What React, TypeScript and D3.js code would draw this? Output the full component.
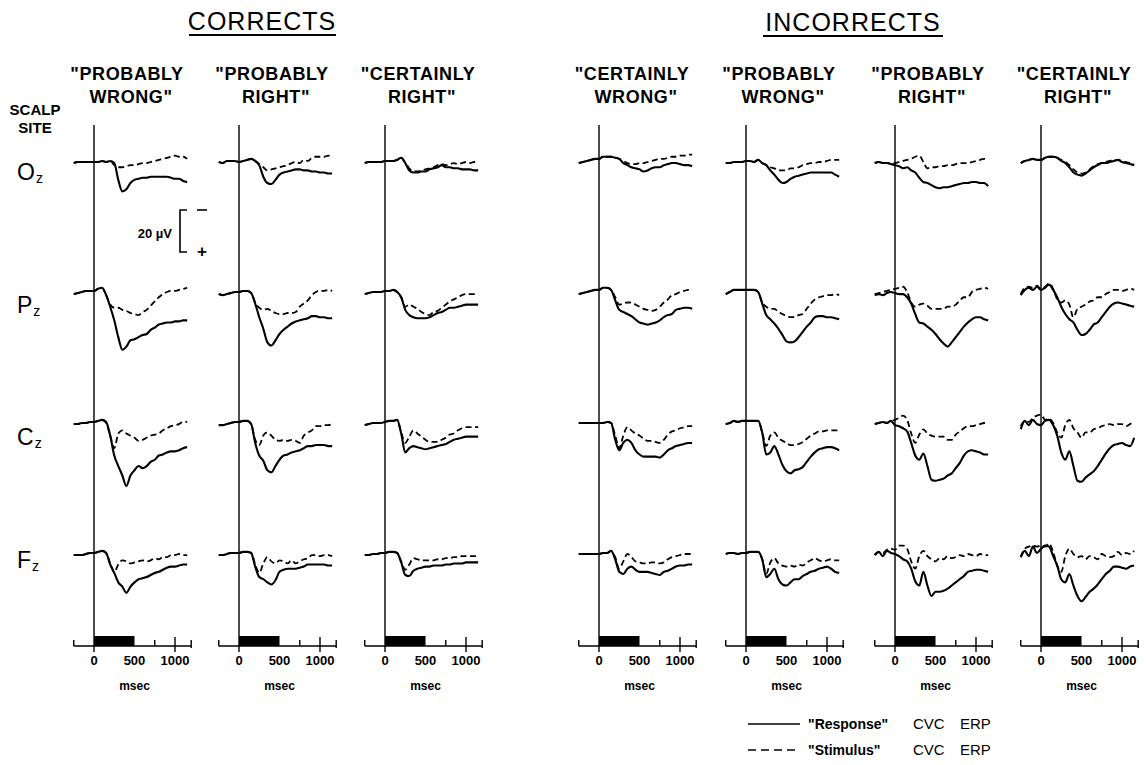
import React from "react";
import * as d3 from "d3";

// time grid (ms)
const TIMES = [-250,-200,-150,-100,-50,0,50,100,150,200,250,300,350,400,450,500,550,600,650,700,750,800,850,900,950,1000,1050,1100,1150];
const SITES = ["O", "P", "C", "F"];
const X_TICK_LABELS = [0, 500, 1000];
const MINOR_TICKS = [750];
const CAL_UV = 20;

// ---- CORRECTS "PROBABLY WRONG" (values µV, positive plotted downward)
const cPW_Oz_R = [0.5,0,0,0,0,0,0,-0.5,0,-0.5,0.5,8.5,14,13,10,8.5,8,7.5,7.5,7,7,7,7,7,7.5,8,8,9,9.5];
const cPW_Oz_S = [0.5,0,0,0,0,0,0,-0.5,0,-0.5,1.5,2.5,2.5,2,1.5,1.5,1,0.5,0.5,0,-0.5,-1,-1.5,-2,-2.5,-3,-2.5,-2.5,-1.5];
const cPW_Pz_R = [1,0.5,0,-0.5,-0.5,-0.5,-1.5,-2,1.5,7,13.5,21.5,27.5,26,23,22.5,21.5,20.5,20,18,17,15.5,15,14.5,14.5,14,14,13.5,13.5];
const cPW_Pz_S = [1,0.5,0,-0.5,-0.5,-0.5,-1.5,-2,1.5,6,7.5,7.5,8.5,9,10,10.5,11,9.5,8.5,6.5,4.5,2.5,1,0,-0.5,-0.5,-1,-1.5,-2];
const cPW_Cz_R = [0.5,0.5,0,0,-0.5,-0.5,-1,-1.5,-0.5,6,15.5,20.5,25,30,25,22.5,20.5,21.5,20.5,18.5,17.5,15.5,15,14,13.5,13.5,13,12,11.5];
const cPW_Cz_S = [0.5,0.5,0,0,-0.5,-0.5,-1,-1.5,0,6,12,5,3.5,5,6,7,8.5,8,7,6,5.5,5,3.5,2.5,1.5,1,0.5,-0.5,-0.5];
const cPW_Fz_R = [0.5,0.5,0.5,0,-0.5,-0.5,-1,-1.5,-0.5,5,9,13.5,15.5,18.5,15.5,13.5,12,11.5,11,10,9,8.5,7.5,6.5,6,6,5.5,5,5];
const cPW_Fz_S = [0.5,0.5,0.5,0,-0.5,-0.5,-1,-1.5,-0.5,4.5,8.5,5,3,3.5,4.5,4,3.5,3,3.5,3,2,2.5,1.5,1.5,0.5,0.5,0,0.5,0.5];

// ---- CORRECTS "PROBABLY RIGHT"
const cPR_Oz_R = [0,0.5,-0.5,-0.5,-0.5,0,-0.5,-1,-1.5,-0.5,1.5,7,10,10.5,8.5,6,5,4.5,4,3.5,3.5,4,4,4.5,4.5,5,5,5.5,5.5];
const cPR_Oz_S = [0,0.5,-0.5,-0.5,-0.5,0,-0.5,-1,-1.5,-0.5,1,2.5,4,3.5,3,2.5,2,1.5,0.5,0,0.5,-1,-0.5,-2,-2.5,-2.5,-2.5,-3,-2.5];
const cPR_Pz_R = [1,1.5,1,0.5,0,0,-0.5,-0.5,0.5,5.5,12,17.5,24,25.5,23,20,18,16.5,15,14,13.5,13,12.5,11.5,11.5,12,12,12.5,12.5];
const cPR_Pz_S = [1,1.5,1,0.5,0,0,-0.5,-0.5,0.5,5,7.5,8.5,8,9,10,10.5,10.5,10,10,9.5,7,5.5,4,1.5,0,-0.5,-0.5,-1,-0.5];
const cPR_Cz_R = [1,1,0.5,0,-0.5,-0.5,-1,-1,0.5,9.5,15.5,18,22.5,23.5,20.5,17.5,15.5,15,14,13.5,13,12,11,11,10.5,10.5,10.5,11,11];
const cPR_Cz_S = [1,1,0.5,0,-0.5,-0.5,-1,-1,0.5,8,10.5,6,4.5,6,8,8.5,8,8.5,8,8.5,9.5,6,4.5,3.5,1.5,1.5,1,1,0.5];
const cPR_Fz_R = [0.5,0.5,0,-0.5,-0.5,-0.5,-1,-1,-0.5,6,11,12,13.5,14.5,12.5,8.5,7.5,7,7,7,6.5,6,5,5,5,5,5,5.5,5.5];
const cPR_Fz_S = [0.5,0.5,0,-0.5,-0.5,-0.5,-1,-1,-0.5,5,9,4.5,1.5,3.5,4.5,3,3.5,4.5,3,4.5,3.5,2.5,2,0.5,0.5,1,0.5,0.5,1];

// ---- CORRECTS "CERTAINLY RIGHT"
const cCR_Oz_R = [0.5,0,0,0,0,-0.5,-0.5,-0.5,-1,-2,0.5,4,5,5,4.5,4.5,3.5,3,2.5,1.5,2.5,2.5,3,3,3.5,3.5,3.5,4,4];
const cCR_Oz_S = [0.5,0,0,0,0,-0.5,-0.5,-0.5,-1,-2,0.5,3,4.5,4.5,4,3.5,3,2.5,1.5,1,1.5,1,0.5,1,0.5,0,0.5,0,0];
const cCR_Pz_R = [1,0.5,0,0,0,-0.5,-0.5,-1,0,2.5,8.5,11,12,12.5,12.5,12.5,12,11,10,9.5,8.5,7.5,7.5,7,6.5,6,6,6,6];
const cCR_Pz_S = [1,0.5,0,0,0,-0.5,-0.5,-1,0,2.5,7,6,7,8,9.5,10.5,11,9.5,9,7.5,6,4.5,3.5,2.5,1.5,1,1,1,1];
const cCR_Cz_R = [1,0.5,0,0,0,-0.5,-1,-1,-1.5,5,14,12,11,11.5,12,12.5,12,11.5,11,10.5,10,9,8,7.5,7,6.5,6.5,6.5,6.5];
const cCR_Cz_S = [1,0.5,0,0,0,-0.5,-1,-1,-1.5,4.5,9.5,6.5,3.5,5,6.5,8,9,9,9,8,7,5.5,5,3.5,2.5,2,2,2,2];
const cCR_Fz_R = [0.5,0.5,0,0,-0.5,-0.5,-1,-1,-0.5,4,10,10.5,8,7,6.5,6,6,5.5,5.5,5.5,5,5,4.5,4.5,4.5,4,4,4,4];
const cCR_Fz_S = [0.5,0.5,0,0,-0.5,-0.5,-1,-1,-0.5,3.5,7.5,5,2,2.5,3,3,3,3,2.5,2.5,2,2,1.5,1.5,1,1,1,1,1];

// ---- INCORRECTS "CERTAINLY WRONG"
const iCW_Oz_R = [0.5,0,-0.5,-1,-1.5,-1.5,-2.5,-2.5,-2.5,-2,-1.5,0.5,1.5,2.5,3,3.5,4.5,4,3,2.5,2.5,1.5,1,0.5,0.5,1,1.5,1.5,2];
const iCW_Oz_S = [0.5,0,-0.5,-1,-1.5,-1.5,-2.5,-2.5,-2.5,-2,-1.5,-0.5,0.5,1,1,0.5,0.5,0,-0.5,-1,-1.5,-1.5,-2,-2.5,-2.5,-3,-3,-3.5,-3.5];
const iCW_Pz_R = [1,0.5,0,-0.5,-1,-1,-2,-2,-1,4,8.5,9.5,10.5,11.5,13,14.5,15,15.5,15,14.5,13.5,12,11,10.5,8.5,8,7.5,7.5,8];
const iCW_Pz_S = [1,0.5,0,-0.5,-1,-1,-2,-2,-1,2.5,6,5.5,5,5,6,7,8,8.5,9,8.5,7,5,3.5,1.5,1,0,-0.5,-1,-0.5];
const iCW_Cz_R = [0,0,0,0,0,0,0,-0.5,0,8,13,9.5,8,9.5,13,15,16,16,16,16,16.5,15,13,12,11,10.5,10,9.5,9.5];
const iCW_Cz_S = [0,0,0,0,0,0,0,-0.5,0,6,12,6,2,3.5,5,6,7.5,8.5,8.5,9,9.5,8,5.5,4,3.5,2.5,2,1.5,1.5];
const iCW_Fz_R = [0,0,0,0,0,0,-0.5,-0.5,-1.5,2.5,8.5,9.5,7,6,7.5,8.5,8.5,8.5,9,9.5,10,8.5,8,7,6,5.5,5.5,5,5];
const iCW_Fz_S = [0,0,0,0,0,0,-0.5,-0.5,-1.5,1.5,7,3.5,0,1.5,3.5,4,4.5,4.5,4,4,4.5,4,2.5,1.5,1,0.5,0,0,0];

// ---- INCORRECTS "PROBABLY WRONG"
const iPW_Oz_R = [0.5,0.5,0,0,0,-0.5,-0.5,0,-1,0.5,1.5,4,6,8.5,10,9.5,8,7,6.5,6,5.5,5,5,5,5,5,5,6,7];
const iPW_Oz_S = [0.5,0.5,0,0,0,-0.5,-0.5,0,-1,0.5,1.5,2.5,3,4,4,4,3,3,2.5,1.5,1,0.5,0.5,0,0,-0.5,-1,-1,-1];
const iPW_Pz_R = [1,0,-1,-1,-1,-1,-1,-1,0,5.5,11,13,15,17.5,20.5,23.5,24,23.5,21.5,19,16.5,14.5,12,11.5,11.5,12,12,12.5,13];
const iPW_Pz_S = [1,0,-1,-1,-1,-1,-1,-1,0,5,7,8,8,9.5,10.5,11.5,12,12,11,10.5,8,5.5,3.5,2.5,2,1.5,1.5,1,1.5];
const iPW_Cz_R = [0.5,0,-1,-0.5,-1,-1,-1,-1,-1,4.5,15,14,11,15,20,23,24,22.5,22,21,18.5,16,14,12.5,12,11.5,11.5,12,13];
const iPW_Cz_S = [0.5,0,-1,-0.5,-1,-1,-1,-1,-1,4.5,11,6,4.5,7,8.5,9.5,10.5,10.5,10,9,7.5,6,5,4,4,3.5,3.5,3.5,3.5];
const iPW_Fz_R = [0,-0.5,-0.5,0,-0.5,-0.5,-1,-1,-1,2.5,11,9.5,7,12,14.5,15,13.5,12,12,10.5,9.5,8.5,8,7,6.5,6,7,8.5,9];
const iPW_Fz_S = [0,-0.5,-0.5,0,-0.5,-0.5,-1,-1,-1,2.5,9.5,4,2,4.5,5.5,6,5.5,6,5,5.5,4,3,2,3,3.5,3,2.5,3,3];

// ---- INCORRECTS "PROBABLY RIGHT"
const iPR_Oz_R = [0.5,0,0.5,0.5,1,1.5,2,3,2.5,4,5,7.5,9.5,10,11,12,12.5,12,12,11.5,11,10.5,10,10,9.5,9.5,10,10,11.5];
const iPR_Oz_S = [0.5,0,0.5,0.5,0.5,0.5,0,-0.5,-1,-1.5,-2.5,-3,0,3,2.5,2.5,2,2,1.5,1.5,1,0.5,0.5,0.5,0,-0.5,-1,-1.5,-1.5];
const iPR_Pz_R = [1.5,1,1.5,0.5,0,0.5,1,1,2.5,5.5,10.5,14.5,15,16.5,18,20,22.5,24.5,26,24,21.5,19,16.5,14.5,13,12,12,13,13.5];
const iPR_Pz_S = [1,0.5,0,-0.5,-1,-1.5,-2,-2.5,0,5,7,6,5.5,6.5,8,8,8,8,7,7,6,4,2.5,2.5,0,-1,-1.5,-2,-1.5];
const iPR_Cz_R = [0.5,0,-0.5,0,-1,1,1.5,2.5,4,9.5,15.5,17.5,14.5,20.5,27,27.5,27,26.5,25,24,21.5,19,15.5,13.5,13,13.5,14,15,15];
const iPR_Cz_S = [0.5,0,-0.5,0,-1,-1.5,-2.5,-3.5,-1.5,5,9.5,5.5,3,5,6,6.5,6.5,6.5,8,8,5.5,4,2.5,1.5,1.5,1,0.5,0,0];
const iPR_Fz_R = [0.5,-1,1,-1.5,-0.5,0,1,2.5,3.5,7,13,15,8.5,15,20,18,18,17.5,16.5,15,13.5,12,10.5,8.5,8,7.5,7.5,8,8.5];
const iPR_Fz_S = [0.5,-1,-0.5,-2,-2.5,-2,-4,-4,-2.5,3.5,7,1,-1.5,1,2.5,3.5,2,2.5,1,2,1.5,0.5,1,0,0.5,1,0,0.5,0.5];

// ---- INCORRECTS "CERTAINLY RIGHT"
const iCR_Oz_R = [0.5,-0.5,-1,-1.5,-1,-1,-2,-2.5,-2.5,-2,-0.5,0.5,2.5,5,6,6.5,5.5,4,2.5,1.5,0.5,0.5,0,-0.5,-1,0,0.5,1,1.5];
const iCR_Oz_S = [0.5,-0.5,-1,-1.5,-1,-1,-2,-2.5,-2.5,-2,-1,0,1.5,3.5,5,5.5,5,3.5,2,1,0.5,0,-0.5,-1,-1,-0.5,0,0.5,1];
const iCR_Pz_R = [1.5,-1,-2,-1,-2.5,-1,-2,-3.5,-1,2.5,7,10.5,13,14.5,18,20.5,20,18,15.5,14.5,12,9.5,7,5.5,5,5.5,6,6.5,7];
const iCR_Pz_S = [1,-2,-2.5,-2,-3,-1.5,-2.5,-4,-1.5,3.5,5,4,6,12,8,7,6,4.5,4,2.5,2.5,1,0,-1,-1,-0.5,-1,-1.5,-1];
const iCR_Cz_R = [3,-1,1,-1.5,0.5,1,-1,-1.5,1,6,14,17.5,13.5,20.5,27.5,28,26,24.5,23,20.5,17.5,14.5,12,10.5,10,9.5,10.5,11,7];
const iCR_Cz_S = [1.5,-1,-0.5,-2.5,-3.5,-4,-1.5,-2,0,4.5,7,1,-1.5,2.5,4.5,7,4.5,4.5,3,2.5,1.5,1,0.5,1,0.5,0.5,1.5,0.5,-0.5];
const iCR_Fz_R = [1.5,-1.5,1,-3.5,-0.5,-2.5,-4,-3.5,1,5.5,12,13.5,9.5,15,20,22.5,20.5,18,16.5,14.5,12,9.5,8,6,6,6.5,7,6,5.5];
const iCR_Fz_S = [1.5,-2.5,-3.5,-4,-3.5,-4,-3.5,-5,-1,5.5,8.5,1,-2.5,0,1.5,1,2.5,1,1.5,2.5,0,1,1.5,1,-1,0.5,-0.5,0,-1.5];

const PANELS = [
  { head: ['"PROBABLY', 'WRONG"'], R: [cPW_Oz_R, cPW_Pz_R, cPW_Cz_R, cPW_Fz_R], S: [cPW_Oz_S, cPW_Pz_S, cPW_Cz_S, cPW_Fz_S] },
  { head: ['"PROBABLY', 'RIGHT"'], R: [cPR_Oz_R, cPR_Pz_R, cPR_Cz_R, cPR_Fz_R], S: [cPR_Oz_S, cPR_Pz_S, cPR_Cz_S, cPR_Fz_S] },
  { head: ['"CERTAINLY', 'RIGHT"'], R: [cCR_Oz_R, cCR_Pz_R, cCR_Cz_R, cCR_Fz_R], S: [cCR_Oz_S, cCR_Pz_S, cCR_Cz_S, cCR_Fz_S] },
  { head: ['"CERTAINLY', 'WRONG"'], R: [iCW_Oz_R, iCW_Pz_R, iCW_Cz_R, iCW_Fz_R], S: [iCW_Oz_S, iCW_Pz_S, iCW_Cz_S, iCW_Fz_S] },
  { head: ['"PROBABLY', 'WRONG"'], R: [iPW_Oz_R, iPW_Pz_R, iPW_Cz_R, iPW_Fz_R], S: [iPW_Oz_S, iPW_Pz_S, iPW_Cz_S, iPW_Fz_S] },
  { head: ['"PROBABLY', 'RIGHT"'], R: [iPR_Oz_R, iPR_Pz_R, iPR_Cz_R, iPR_Fz_R], S: [iPR_Oz_S, iPR_Pz_S, iPR_Cz_S, iPR_Fz_S] },
  { head: ['"CERTAINLY', 'RIGHT"'], R: [iCR_Oz_R, iCR_Pz_R, iCR_Cz_R, iCR_Fz_R], S: [iCR_Oz_S, iCR_Pz_S, iCR_Cz_S, iCR_Fz_S] },
];

// layout
const W = 1148, H = 765;
const PANEL_X0 = [94, 239, 385, 599, 746, 895, 1041];
const ROW_BASE = [162, 292, 423, 554];
const ROW_LABEL_Y = [180, 313, 445, 568];
const PX_PER_1000MS = 81;
const PX_PER_20UV = 42;
const AXIS_Y = 646;
const FONT = "'Liberation Sans', Arial, 'DejaVu Sans', sans-serif";

export default function App() {
  const line = (xs: d3.ScaleLinear<number, number>, ys: d3.ScaleLinear<number, number>) =>
    d3.line<number>().x((_, i) => xs(TIMES[i])).y((v) => ys(v)).curve(d3.curveMonotoneX);

  const calY = d3.scaleLinear().domain([0, CAL_UV]).range([210, 210 + PX_PER_20UV]);

  return (
    <svg width={W} height={H} style={{ position: "absolute", left: 0, top: 0, background: "#fff" }} fontFamily={FONT}>
      {/* group titles */}
      <text x={262} y={30} fontSize={25} textAnchor="middle" fill="#000" letterSpacing={1}>CORRECTS</text>
      <line x1={189} x2={336} y1={35} y2={35} stroke="#000" strokeWidth={2} />
      <text x={853} y={31} fontSize={25} textAnchor="middle" fill="#000" letterSpacing={1}>INCORRECTS</text>
      <line x1={763} x2={943} y1={36} y2={36} stroke="#000" strokeWidth={2} />

      {/* scalp site */}
      <text x={35} y={115} fontSize={15} fontWeight="bold" textAnchor="middle">SCALP</text>
      <text x={35} y={133} fontSize={15} fontWeight="bold" textAnchor="middle">SITE</text>
      {SITES.map((s, r) => (
        <text key={s} x={17} y={ROW_LABEL_Y[r]} fontSize={23}>
          {s}
          <tspan fontSize={14} dy={3} dx={1}>z</tspan>
        </text>
      ))}

      {/* calibration */}
      <path d={`M187,${calY(0)} H180 V${calY(CAL_UV)} H187`} fill="none" stroke="#000" strokeWidth={1.6} />
      <line x1={197} x2={207} y1={calY(0)} y2={calY(0)} stroke="#000" strokeWidth={1.6} />
      <text x={202} y={calY(CAL_UV) + 5} fontSize={17} textAnchor="middle" fontWeight="bold">+</text>
      <text x={172} y={238} fontSize={13} fontWeight="bold" textAnchor="end">20 µV</text>

      {PANELS.map((p, k) => {
        const x0 = PANEL_X0[k];
        const xs = d3.scaleLinear().domain([0, 1000]).range([x0, x0 + PX_PER_1000MS]);
        const cx = x0 + 33;
        return (
          <g key={k}>
            <text x={cx} y={80} fontSize={18} fontWeight="bold" textAnchor="middle" letterSpacing={0.6}>{p.head[0]}</text>
            <text x={cx + 4} y={103} fontSize={18} fontWeight="bold" textAnchor="middle" letterSpacing={0.6}>{p.head[1]}</text>
            <line x1={xs(0)} x2={xs(0)} y1={125} y2={652} stroke="#000" strokeWidth={1.4} />
            {ROW_BASE.map((b, r) => {
              const ys = d3.scaleLinear().domain([0, CAL_UV]).range([b, b + PX_PER_20UV]);
              const gen = line(xs, ys);
              return (
                <g key={r}>
                  <path d={gen(p.S[r]) || ""} fill="none" stroke="#000" strokeWidth={1.8} strokeDasharray="6 3.5" />
                  <path d={gen(p.R[r]) || ""} fill="none" stroke="#000" strokeWidth={2.1} strokeLinejoin="round" />
                </g>
              );
            })}
            {/* stimulus bar and axis */}
            <rect x={xs(0)} y={AXIS_Y - 10} width={xs(500) - xs(0)} height={10} fill="#000" />
            <line x1={xs(-250)} x2={xs(1200)} y1={AXIS_Y} y2={AXIS_Y} stroke="#000" strokeWidth={1.6} />
            <line x1={xs(-250)} x2={xs(-250)} y1={AXIS_Y - 6} y2={AXIS_Y} stroke="#000" strokeWidth={1.4} />
            <line x1={xs(1200)} x2={xs(1200)} y1={AXIS_Y - 6} y2={AXIS_Y + 2} stroke="#000" strokeWidth={1.4} />
            {MINOR_TICKS.map((t) => (
              <line key={t} x1={xs(t)} x2={xs(t)} y1={AXIS_Y - 6} y2={AXIS_Y} stroke="#000" strokeWidth={1.4} />
            ))}
            <line x1={xs(1000)} x2={xs(1000)} y1={AXIS_Y - 9} y2={AXIS_Y + 6} stroke="#000" strokeWidth={1.4} />
            {X_TICK_LABELS.map((t) => (
              <text key={t} x={xs(t)} y={665} fontSize={13} fontWeight="bold" textAnchor="middle">{t}</text>
            ))}
            <text x={xs(500)} y={690} fontSize={12} fontWeight="bold" textAnchor="middle">msec</text>
          </g>
        );
      })}

      {/* legend */}
      <line x1={748} x2={800} y1={724} y2={724} stroke="#000" strokeWidth={1.6} />
      <text x={808} y={729} fontSize={14} fontWeight="bold">"Response"</text>
      <text x={913} y={729} fontSize={15}>CVC</text>
      <text x={960} y={729} fontSize={15}>ERP</text>
      <line x1={748} x2={800} y1={750} y2={750} stroke="#000" strokeWidth={1.6} strokeDasharray="8 5" />
      <text x={808} y={755} fontSize={14} fontWeight="bold">"Stimulus"</text>
      <text x={913} y={755} fontSize={15}>CVC</text>
      <text x={960} y={755} fontSize={15}>ERP</text>
    </svg>
  );
}
